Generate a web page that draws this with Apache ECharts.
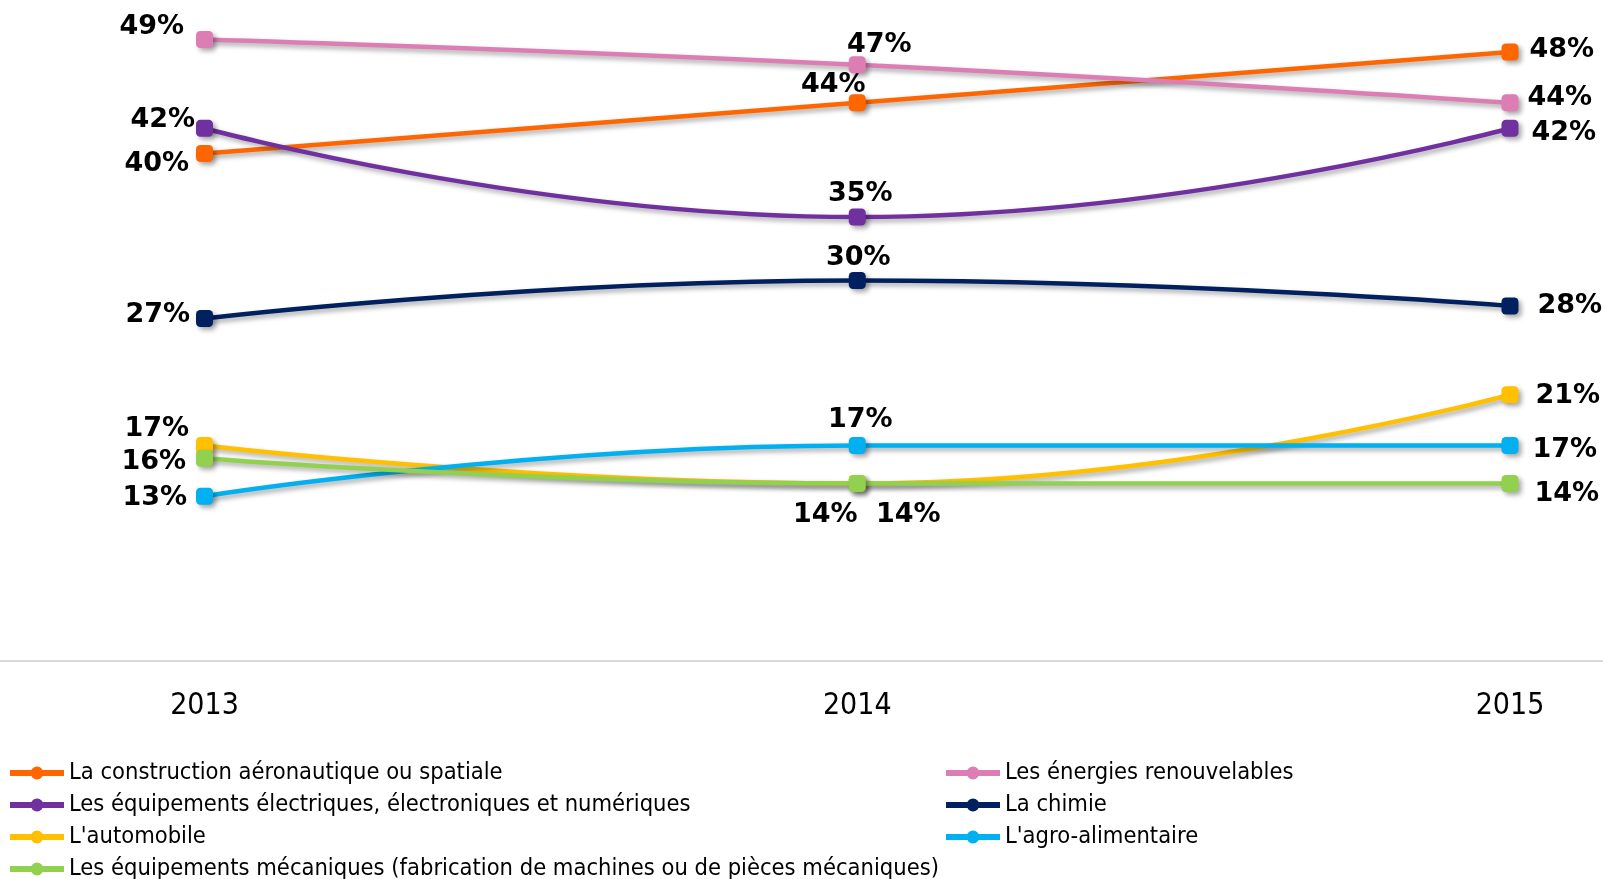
<!DOCTYPE html>
<html>
<head>
<meta charset="utf-8">
<script src="https://cdn.jsdelivr.net/npm/echarts@6/dist/echarts.min.js"></script>
<style>
  html, body { margin: 0; padding: 0; background: #fff; }
  #main { width: 1603px; height: 879px; }
</style>
</head>
<body>
<div id="main"></div>
<script>
// data
var years = ['2013', '2014', '2015'];
var names = [
  'La construction aéronautique ou spatiale',
  'Les énergies renouvelables',
  'Les équipements électriques, électroniques et numériques',
  'La chimie',
  "L'automobile",
  "L'agro-alimentaire",
  'Les équipements mécaniques (fabrication de machines ou de pièces mécaniques)'
];
var aero = [40, 44, 48];
var energies = [49, 47, 44];
var electrique = [42, 35, 42];
var chimie = [27, 30, 28];
var automobile = [17, 14, 21];
var agro = [13, 17, 17];
var mecanique = [16, 14, 14];

var colors = ['#FF6600', '#DC7EB3', '#7030A0', '#002060', '#FFC000', '#00B0F0', '#92D050'];

// label placement per point: [position, dx, dy]
var places = [
  [['left', -2, 10], ['top', -24, 9], ['right', 6, -2]],
  [['left', -7, -12], ['top', 22, 7], ['right', 4, -5]],
  [['left', 4, -8], ['top', 3, 4], ['right', 8, 5]],
  [['left', -1, -4], ['top', 1, 4], ['right', 14, 0]],
  [['left', -2, -16], ['bottom', -32, 4], ['right', 12, 1]],
  [['left', -4, 2], ['top', 3, 2], ['right', 9, 5]],
  [['left', -5, 4], ['bottom', 51, 4], ['right', 11, 10]]
];
var values = [aero, energies, electrique, chimie, automobile, agro, mecanique];

var shadow = {
  shadowColor: 'rgba(0,0,0,0.35)',
  shadowBlur: 5,
  shadowOffsetX: 3,
  shadowOffsetY: 3
};

function makeSeries(i) {
  return {
    name: names[i],
    type: 'line',
    smooth: 0.5,
    symbol: 'roundRect',
    symbolSize: 17,
    z: 2 + i,
    data: values[i].map(function (v, k) {
      var p = places[i][k];
      return { value: [k, v], label: { position: p[0], offset: [p[1], p[2]] } };
    }),
    lineStyle: Object.assign({ width: 4.5, color: colors[i] }, shadow),
    itemStyle: Object.assign({ color: colors[i] }, shadow),
    label: {
      show: true,
      formatter: function (p) { return p.value[1] + '%'; },
      fontFamily: 'DejaVu Sans',
      fontWeight: 'bold',
      fontSize: 27,
      color: '#000'
    },
    emphasis: { disabled: true }
  };
}

var legendIcon = 'path://M0,3.5 L54,3.5 L54,9.5 L0,9.5 Z M20.5,6.5 A6.5,6.5 0 1,1 33.5,6.5 A6.5,6.5 0 1,1 20.5,6.5 Z';
var legendText = { fontFamily: 'DejaVu Sans Condensed', fontSize: 23.5, color: '#000', lineHeight: 26 };

var chart = echarts.init(document.getElementById('main'));
var option = {
  animation: false,
  color: colors,
  grid: { left: 0, right: 0, top: 26.7, bottom: 217.8 },
  xAxis: {
    type: 'value',
    min: -0.3133,
    max: 2.1425,
    splitLine: { show: false },
    axisTick: { show: false },
    axisLine: { show: true, lineStyle: { color: '#D9D9D9', width: 2 } },
    axisLabel: {
      customValues: [0, 1, 2],
      formatter: function (v) { return years[Math.round(v)]; },
      fontFamily: 'DejaVu Sans Condensed',
      fontSize: 30,
      color: '#000',
      margin: 30
    }
  },
  yAxis: {
    type: 'value',
    min: 0,
    max: 50,
    show: false
  },
  legend: [
    {
      data: [names[0], names[2], names[4], names[6]],
      orient: 'vertical',
      left: 10,
      top: 760,
      height: 140,
      padding: 0,
      icon: legendIcon,
      itemWidth: 54,
      itemHeight: 13,
      itemGap: 6,
      textStyle: legendText,
      selectedMode: false
    },
    {
      data: [names[1], names[3], names[5]],
      orient: 'vertical',
      left: 946,
      top: 760,
      height: 140,
      padding: 0,
      icon: legendIcon,
      itemWidth: 54,
      itemHeight: 13,
      itemGap: 6,
      textStyle: legendText,
      selectedMode: false
    }
  ],
  series: values.map(function (v, i) { return makeSeries(i); })
};
chart.setOption(option, true);
window.onresize = chart.resize;
</script>
</body>
</html>
